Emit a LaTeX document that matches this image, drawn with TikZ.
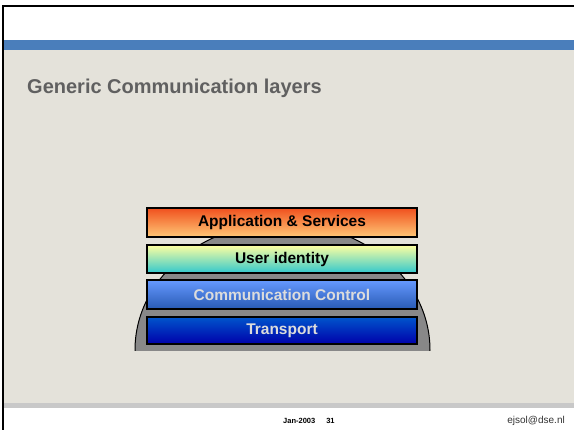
\documentclass[tikz,border=0pt]{standalone}
\usepackage{fontspec}
\setmainfont{Liberation Sans}
\definecolor{beige}{RGB}{228,226,218}
\definecolor{bandblue}{RGB}{74,126,187}
\definecolor{footgray}{RGB}{200,200,200}
\definecolor{titlegray}{RGB}{96,96,96}
\definecolor{domegray}{RGB}{136,136,136}
\definecolor{appTop}{RGB}{240,80,30}
\definecolor{appBot}{RGB}{255,200,118}
\definecolor{usrTop}{RGB}{255,255,160}
\definecolor{usrBot}{RGB}{50,200,205}
\definecolor{comTop}{RGB}{102,153,255}
\definecolor{comBot}{RGB}{40,90,180}
\definecolor{trTop}{RGB}{0,85,204}
\definecolor{trBot}{RGB}{0,0,170}
\definecolor{lighttext}{RGB}{220,220,220}
\tikzset{
  layer/.style={draw=black, line width=1.2pt, minimum width=270pt, inner sep=0pt,
    shading=axis, font=\fontsize{15.5}{18}\selectfont\bfseries},
  plain/.style={inner sep=0pt},
}
\begin{document}
\begin{tikzpicture}[x=1pt,y=-1pt]
\useasboundingbox (0,0) rectangle (574,430);
\fill[white] (0,0) rectangle (574,430);
\fill[bandblue] (3,40) rectangle (574,50);
\fill[beige] (3,50) rectangle (574,403);
\fill[footgray] (3,403) rectangle (574,408);
\fill[black] (2,5) rectangle (574,7);
\fill[black] (2,5) rectangle (4,430);
\node[plain, anchor=base west, text=titlegray, font=\fontsize{20}{24}\selectfont\bfseries] (title) at (27,93.5) {Generic Communication layers};
\begin{scope}
\clip (0,0) rectangle (574,350.5);
\fill[domegray] (282.5,350) ellipse[x radius=147.5, y radius=127];
\draw[black, line width=1pt] (282.5,350) ellipse[x radius=147.5, y radius=127];
\end{scope}
\node[layer, minimum height=29pt, top color=appTop, bottom color=appBot, text=black] (app) at (282,222.5) {Application \& Services};
\node[layer, minimum height=28pt, top color=usrTop, bottom color=usrBot, text=black] (usr) at (282,259) {User identity};
\node[layer, minimum height=29pt, top color=comTop, bottom color=comBot, text=lighttext] (com) at (282,294.5) {Communication Control};
\node[layer, minimum height=27pt, top color=trTop, bottom color=trBot, text=lighttext] (tr) at (282,330.5) {Transport};
\node[plain, anchor=base west, font=\fontsize{7.5}{9}\selectfont\bfseries] (date) at (283,424) {Jan-2003\hspace{11pt}31};
\node[plain, anchor=base east, text=black!80, font=\fontsize{10}{12}\selectfont] (mail) at (565,424) {ejsol@dse.nl};
\end{tikzpicture}
\end{document}
